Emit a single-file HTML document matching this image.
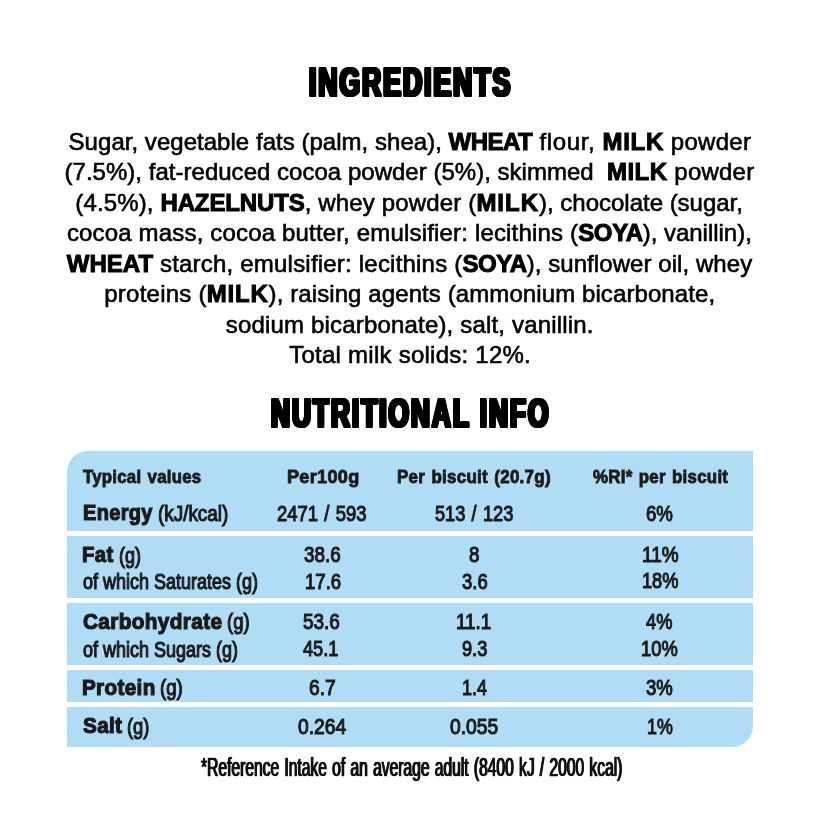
<!DOCTYPE html><html><head><meta charset="utf-8"><title>Ingredients and nutritional info</title><style>
html,body{margin:0;padding:0;background:#fff;}
body{width:821px;height:821px;position:relative;overflow:hidden;font-family:"Liberation Sans",sans-serif;color:#000;}
.t{position:absolute;white-space:nowrap;line-height:1;transform-origin:0 0;}
.h{font-weight:bold;letter-spacing:3px;text-shadow:-2.2px -0.75px 0 #000,-2.2px 0px 0 #000,-2.2px 0.75px 0 #000,-1.1px -0.75px 0 #000,-1.1px 0px 0 #000,-1.1px 0.75px 0 #000,0px -0.75px 0 #000,0px 0.75px 0 #000,1.1px -0.75px 0 #000,1.1px 0px 0 #000,1.1px 0.75px 0 #000,2.2px -0.75px 0 #000,2.2px 0px 0 #000,2.2px 0.75px 0 #000;}
.ing{-webkit-text-stroke:0.6px #000;}
.ing b{font-weight:bold;-webkit-text-stroke:1.0px #000;}
.th{font-weight:bold;color:#1b1b1b;-webkit-text-stroke:0.9px #1b1b1b;word-spacing:1.5px;letter-spacing:0.3px;}
.tl{font-weight:bold;color:#1b1b1b;-webkit-text-stroke:1.2px #1b1b1b;letter-spacing:0.4px;}
.tv{color:#1b1b1b;-webkit-text-stroke:1.1px #1b1b1b;word-spacing:1.5px;}
.tw{color:#1b1b1b;-webkit-text-stroke:1.15px #1b1b1b;}
.ft{color:#111;-webkit-text-stroke:0.3px #111;text-shadow:1px 0 0 #111,-1px 0 0 #111;word-spacing:1.5px;}
.band{position:absolute;left:66.8px;width:686.4px;background:#b1dcf6;}
</style></head><body><div class="band" style="top:451.3px;height:79.5px;border-radius:21px 0 0 0"></div><div class="band" style="top:535.7px;height:62.3px;border-radius:0"></div><div class="band" style="top:602.5px;height:62.8px;border-radius:0"></div><div class="band" style="top:670.2px;height:32.0px;border-radius:0"></div><div class="band" style="top:707.0px;height:39.7px;border-radius:0 0 21px 0"></div>
<div class="t ing" style="left:68.58px;top:130.23px;font-size:24px"><span style="letter-spacing:0.032px">Sugar, vegetable fats (palm, shea), </span><b style="letter-spacing:-0.519px">WHEAT</b><span style="letter-spacing:0.617px"> flour, </span><b style="letter-spacing:0.684px">MILK</b><span style="letter-spacing:0.276px"> powder</span></div>
<div class="t ing" style="left:64.55px;top:160.23px;font-size:24px"><span style="letter-spacing:0.021px">(7.5%), fat-reduced cocoa powder (5%), skimmed&nbsp; </span><b style="letter-spacing:0.422px">MILK</b><span style="letter-spacing:0.220px"> powder</span></div>
<div class="t ing" style="left:75.31px;top:191.23px;font-size:24px"><span style="letter-spacing:0.138px">(4.5%), </span><b style="letter-spacing:-0.123px">HAZELNUTS</b><span style="letter-spacing:0.154px">, whey powder (</span><b style="letter-spacing:1.005px">MILK</b><span style="letter-spacing:-0.012px">), chocolate (sugar,</span></div>
<div class="t ing" style="left:66.88px;top:221.23px;font-size:24px"><span style="letter-spacing:0.171px">cocoa mass, cocoa butter, emulsifier: lecithins (</span><b style="letter-spacing:-0.316px">SOYA</b><span style="letter-spacing:-0.019px">), vanillin),</span></div>
<div class="t ing" style="left:66.84px;top:252.23px;font-size:24px"><b style="letter-spacing:0.008px">WHEAT</b><span style="letter-spacing:0.207px"> starch, emulsifier: lecithins (</span><b style="letter-spacing:-0.413px">SOYA</b><span style="letter-spacing:0.070px">), sunflower oil, whey</span></div>
<div class="t ing" style="left:104.23px;top:282.23px;font-size:24px"><span style="letter-spacing:0.246px">proteins (</span><b style="letter-spacing:0.796px">MILK</b><span style="letter-spacing:0.094px">), raising agents (ammonium bicarbonate,</span></div>
<div class="t ing" style="left:225.85px;top:313.23px;font-size:24px"><span style="letter-spacing:0.174px">sodium bicarbonate), salt, vanillin.</span></div>
<div class="t ing" style="left:289.19px;top:343.23px;font-size:24px"><span style="letter-spacing:0.250px">Total milk solids: 12%.</span></div>
<div class="t h" style="left:308.90px;top:62.19px;font-size:40px;transform:scaleX(0.6631)">INGREDIENTS</div>
<div class="t h" style="left:270.91px;top:393.04px;font-size:40px;transform:scaleX(0.6573)">NUTRITIONAL INFO</div>
<div class="t th" style="left:82.98px;top:467.10px;font-size:19.2px;transform:scaleX(0.8739)">Typical values</div>
<div class="t th" style="left:286.70px;top:467.10px;font-size:19.2px;transform:scaleX(0.9446)">Per100g</div>
<div class="t th" style="left:397.11px;top:467.10px;font-size:19.2px;transform:scaleX(0.8843)">Per biscuit (20.7g)</div>
<div class="t th" style="left:593.06px;top:467.10px;font-size:19.2px;transform:scaleX(0.8787)">%RI* per biscuit</div>
<div class="t tl" style="left:82.62px;top:502.17px;font-size:22.3px;transform:scaleX(0.8942)">Energy</div>
<div class="t tw" style="left:157.85px;top:503.20px;font-size:22.5px;transform:scaleX(0.8395)">(kJ/kcal)</div>
<div class="t tl" style="left:82.38px;top:544.02px;font-size:22.3px;transform:scaleX(0.9091)">Fat</div>
<div class="t tw" style="left:118.93px;top:545.05px;font-size:22.5px;transform:scaleX(0.8021)">(g)</div>
<div class="t tl" style="left:82.83px;top:611.07px;font-size:22.3px;transform:scaleX(0.9305)">Carbohydrate</div>
<div class="t tw" style="left:226.70px;top:611.10px;font-size:22.5px;transform:scaleX(0.8219)">(g)</div>
<div class="t tl" style="left:82.34px;top:677.12px;font-size:22.3px;transform:scaleX(0.9245)">Protein</div>
<div class="t tw" style="left:159.99px;top:677.15px;font-size:22.5px;transform:scaleX(0.8294)">(g)</div>
<div class="t tl" style="left:83.09px;top:715.22px;font-size:22.3px;transform:scaleX(0.9263)">Salt</div>
<div class="t tw" style="left:126.90px;top:716.00px;font-size:22.5px;transform:scaleX(0.8142)">(g)</div>
<div class="t tw" style="left:82.92px;top:572.00px;font-size:21.5px;transform:scaleX(0.8367)">of which Saturates (g)</div>
<div class="t tw" style="left:82.92px;top:640.15px;font-size:21.5px;transform:scaleX(0.8362)">of which Sugars (g)</div>
<div class="t tv" style="left:277.44px;top:503.17px;font-size:22.3px;transform:scaleX(0.8266)">2471 / 593</div>
<div class="t tv" style="left:434.91px;top:503.17px;font-size:22.3px;transform:scaleX(0.8151)">513 / 123</div>
<div class="t tv" style="left:645.82px;top:503.17px;font-size:22.3px;transform:scaleX(0.8360)">6%</div>
<div class="t tv" style="left:304.44px;top:544.22px;font-size:22.3px;transform:scaleX(0.8459)">38.6</div>
<div class="t tv" style="left:468.81px;top:544.22px;font-size:22.3px;transform:scaleX(0.8409)">8</div>
<div class="t tv" style="left:642.08px;top:544.07px;font-size:22.3px;transform:scaleX(0.8511)">11%</div>
<div class="t tv" style="left:304.72px;top:571.22px;font-size:22.3px;transform:scaleX(0.8342)">17.6</div>
<div class="t tv" style="left:461.69px;top:571.22px;font-size:22.3px;transform:scaleX(0.8275)">3.6</div>
<div class="t tv" style="left:642.13px;top:570.02px;font-size:22.3px;transform:scaleX(0.8162)">18%</div>
<div class="t tv" style="left:303.29px;top:611.22px;font-size:22.3px;transform:scaleX(0.8501)">53.6</div>
<div class="t tv" style="left:455.71px;top:611.22px;font-size:22.3px;transform:scaleX(0.8449)">11.1</div>
<div class="t tv" style="left:646.27px;top:611.17px;font-size:22.3px;transform:scaleX(0.8174)">4%</div>
<div class="t tv" style="left:303.23px;top:638.22px;font-size:22.3px;transform:scaleX(0.8162)">45.1</div>
<div class="t tv" style="left:461.54px;top:638.22px;font-size:22.3px;transform:scaleX(0.8162)">9.3</div>
<div class="t tv" style="left:640.74px;top:638.02px;font-size:22.3px;transform:scaleX(0.8219)">10%</div>
<div class="t tv" style="left:309.03px;top:677.12px;font-size:22.3px;transform:scaleX(0.8625)">6.7</div>
<div class="t tv" style="left:462.13px;top:677.12px;font-size:22.3px;transform:scaleX(0.8065)">1.4</div>
<div class="t tv" style="left:646.08px;top:677.22px;font-size:22.3px;transform:scaleX(0.8316)">3%</div>
<div class="t tv" style="left:297.93px;top:716.22px;font-size:22.3px;transform:scaleX(0.8646)">0.264</div>
<div class="t tv" style="left:450.01px;top:716.22px;font-size:22.3px;transform:scaleX(0.8653)">0.055</div>
<div class="t tv" style="left:647.38px;top:716.02px;font-size:22.3px;transform:scaleX(0.7995)">1%</div>
<div class="t ft" style="left:200.85px;top:754.17px;font-size:26.5px;transform:scaleX(0.5896)">*Reference Intake of an average adult (8400 kJ / 2000 kcal)</div></body></html>
